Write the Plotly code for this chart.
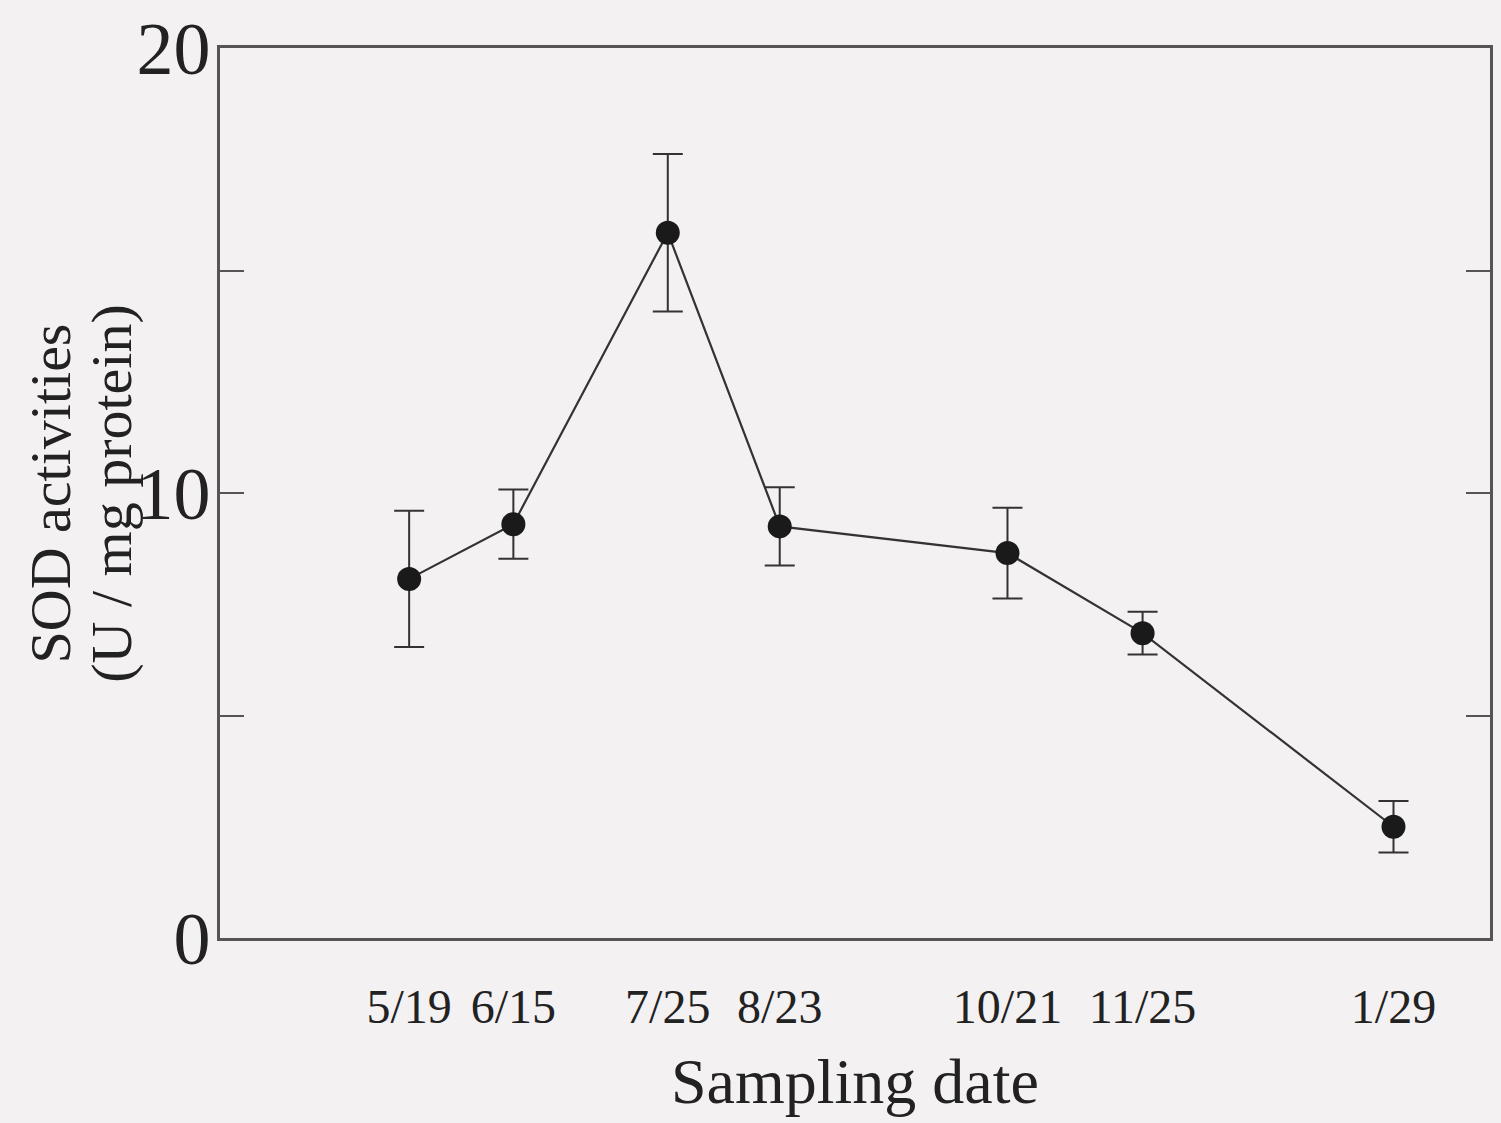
import plotly.graph_objects as go

# Data
dates = ["2003-05-19", "2003-06-15", "2003-07-25", "2003-08-23",
         "2003-10-21", "2003-11-25", "2004-01-29"]
date_labels = ["5/19", "6/15", "7/25", "8/23", "10/21", "11/25", "1/29"]
sod = [8.07, 9.30, 15.85, 9.25, 8.65, 6.85, 2.50]
sod_err = [1.53, 0.78, 1.77, 0.88, 1.02, 0.48, 0.58]

y_tickvals = [0, 5, 10, 15, 20]
y_ticktext = ["0", "", "10", "", "20"]

FONT = "Liberation Serif"
INK = "#222222"
AXIS = "#555555"
BG = "#f4f1f3"

fig = go.Figure()
fig.add_trace(go.Scatter(
    x=dates, y=sod,
    mode="lines+markers",
    line=dict(color="#333333", width=2.2),
    marker=dict(color="#1a1a1a", size=24),
    error_y=dict(type="data", array=sod_err, visible=True,
                 color="#333333", thickness=2, width=15),
    showlegend=False,
))

fig.update_layout(
    width=1501, height=1123,
    margin=dict(l=220, r=8, t=38, b=185),
    paper_bgcolor=BG, plot_bgcolor=BG,
    font=dict(family=FONT, color=INK),
    xaxis=dict(
        type="date",
        range=["2003-03-31", "2004-02-23"],
        tickvals=dates, ticktext=date_labels,
        tickfont=dict(size=48, family=FONT, color=INK),
        ticks="", showgrid=False, zeroline=False,
        showline=True, linecolor=AXIS, linewidth=2.5, mirror=True,
        ticklabelstandoff=25,
    ),
    yaxis=dict(
        range=[0, 20],
        tickvals=y_tickvals, ticktext=y_ticktext,
        tickfont=dict(size=74, family=FONT, color=INK),
        ticks="inside", ticklen=24, tickwidth=2, tickcolor=AXIS,
        showgrid=False, zeroline=False,
        showline=True, linecolor=AXIS, linewidth=2.5, mirror="ticks",
        ticklabelstandoff=-8, ticklabeloverflow="allow",
    ),
)

fig.add_annotation(
    text="Sampling date",
    xref="paper", yref="paper", x=0.5, y=-0.2033,
    xanchor="center", yanchor="bottom", showarrow=False,
    font=dict(size=64, family=FONT, color=INK),
)
fig.add_annotation(
    text="SOD activities", textangle=-90,
    xref="paper", yref="paper", x=-0.1335, y=0.5,
    xanchor="center", yanchor="middle", showarrow=False,
    font=dict(size=58, family=FONT, color=INK),
)
fig.add_annotation(
    text="(U / mg protein)", textangle=-90,
    xref="paper", yref="paper", x=-0.086, y=0.5,
    xanchor="center", yanchor="middle", showarrow=False,
    font=dict(size=58, family=FONT, color=INK),
)

fig.write_html(
    "out.html",
    config={"displayModeBar": False},
    post_script="document.body.style.margin='0';"
                "document.body.style.background='#f4f1f3';"
                "document.body.style.overflow='hidden';",
)
